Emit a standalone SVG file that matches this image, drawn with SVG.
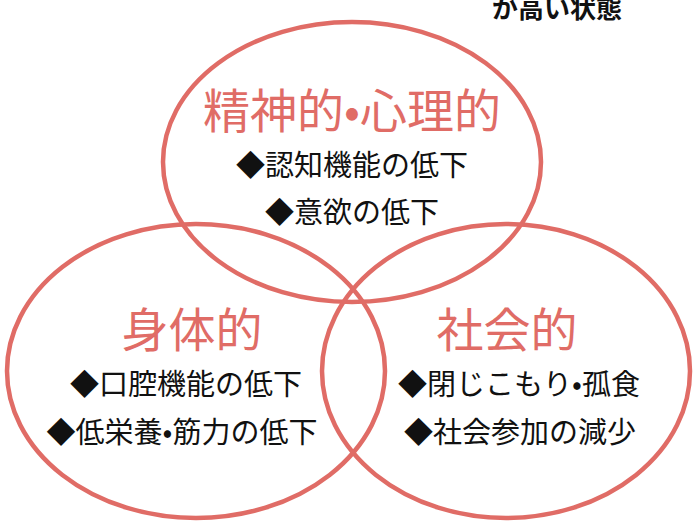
<svg xmlns="http://www.w3.org/2000/svg" width="693" height="524" viewBox="0 0 693 524">
<style>
.c{fill:none;stroke:#E06C66;stroke-width:4.5}
.t{font-family:"Noto Sans CJK JP","Noto Sans",sans-serif;fill:#E06C66;text-anchor:middle;font-size:47px}
.i{font-family:"Noto Sans CJK JP","Noto Sans",sans-serif;fill:#111;text-anchor:middle;font-size:29px}
</style>
<rect width="693" height="524" fill="#fff"/>
<text x="557" y="18" font-family="'Noto Sans CJK JP',sans-serif" font-weight="bold" font-size="26" text-anchor="middle" fill="#111">が高い状態</text>
<g id="top">
<ellipse class="c" cx="352" cy="162" rx="189" ry="140"/>
<text class="t" x="352" y="128" font-size="48">精神的•心理的</text>
<text class="i" x="352" y="176">◆認知機能の低下</text>
<text class="i" x="352" y="223">◆意欲の低下</text>
</g>
<g id="left">
<ellipse class="c" cx="196" cy="371" rx="189" ry="147"/>
<text class="t" x="192" y="347">身体的</text>
<text class="i" x="186" y="395">◆口腔機能の低下</text>
<text class="i" x="182" y="443">◆低栄養•筋力の低下</text>
</g>
<g id="right">
<ellipse class="c" cx="506" cy="371" rx="184" ry="147"/>
<text class="t" x="507" y="347">社会的</text>
<text class="i" x="519" y="395">◆閉じこもり•孤食</text>
<text class="i" x="520" y="443">◆社会参加の減少</text>
</g>
<g id="connectors"/>
</svg>
